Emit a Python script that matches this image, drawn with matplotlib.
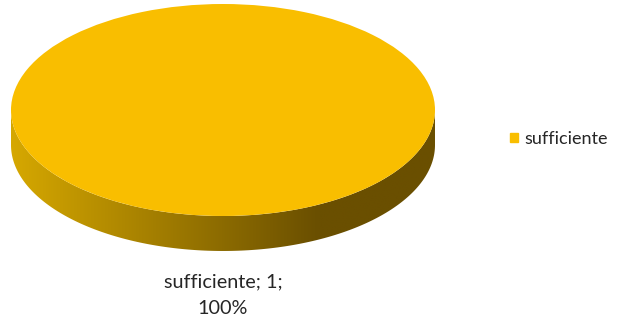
import matplotlib.pyplot as plt
import matplotlib.patches as mpatches
import numpy as np

labels = ['sufficiente']
values = [1]
colors = ['#F9BE00']

fig = plt.figure(figsize=(6.18, 3.21), dpi=100)
ax = fig.add_axes([0, 0, 1, 1])

# pie centre at pixel (223,110), rx=212, ry=106
depth = 0.33
total = sum(values)

# side of the 3d pie (front half, shaded)
t = np.linspace(np.pi, 2 * np.pi, 200)
top_edge = np.column_stack([np.cos(t), np.sin(t)])
bot_edge = np.column_stack([np.cos(t[::-1]), np.sin(t[::-1]) - depth])
side = mpatches.Polygon(np.vstack([top_edge, bot_edge]), closed=True,
                        facecolor='none', edgecolor='none')
ax.add_patch(side)

xs = np.linspace(-1, 1, 400)
light = np.array([214, 168, 0]) / 255
dark = np.array([106, 79, 0]) / 255
f = np.clip((xs + 1) / 1.45, 0, 1)[:, None]
grad = light * (1 - f) + dark * f
img = ax.imshow(grad[None, :, :], extent=(-1, 1, -1 - depth, 0),
                aspect='auto', interpolation='bilinear', zorder=1)
img.set_clip_path(side)

# top face from the data
wedges, _ = ax.pie(values, colors=colors, radius=1, center=(0, 0),
                   startangle=90, frame=True,
                   wedgeprops=dict(linewidth=0, zorder=2))

ax.set_aspect('auto')
ax.set_xlim((0 - 223) / 212, (618 - 223) / 212)
ax.set_ylim((110 - 321) / 106, 110 / 106)
ax.axis('off')

for lab, v in zip(labels, values):
    ax.text(0.0, -1.75, '%s; %d;\n%d%%' % (lab, v, round(100 * v / total)),
            ha='center', va='center', fontsize=14.3, family='Lato',
            color='#262626', linespacing=1.7, zorder=3)

handles = [mpatches.Patch(color=c) for c in colors]
fig.legend(handles, labels, loc='center left', bbox_to_anchor=(0.7995, 0.567),
           frameon=False, prop={'family': 'Lato', 'size': 13},
           handlelength=0.45, handleheight=0.45, handletextpad=0.3,
           labelcolor='#262626')

fig.savefig('out.png', dpi=100)
